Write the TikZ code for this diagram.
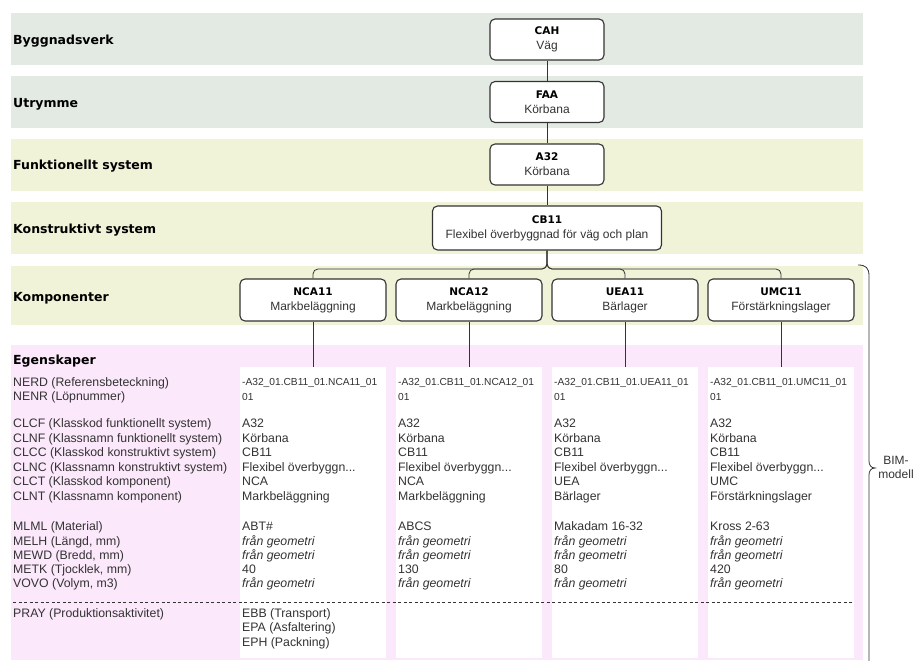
\documentclass[tikz,border=0pt]{standalone}
\usepackage{fontspec}
\setmainfont{Liberation Sans}
\newfontfamily\dvsans{DejaVu Sans}
\usetikzlibrary{calc,positioning}
\definecolor{bandgray}{RGB}{227,233,227}
\definecolor{bandyellow}{RGB}{240,243,215}
\definecolor{bandpink}{RGB}{252,232,251}
\definecolor{ink}{RGB}{51,51,51}
\newcommand\ttl[1]{{\dvsans\bfseries\fontsize{10.5}{15}\selectfont\color{black}#1}}
\newcommand\hd[1]{{\dvsans\bfseries\fontsize{12.5}{15}\selectfont\color{black}#1}}
\newcommand\flexshort{Flexibel överbyggn...}
\newcommand\fg{\textit{från geometri}}
\tikzset{
  box/.style={draw=ink,line width=1.1pt,rounded corners=5pt,fill=white,align=center,
    inner sep=0pt,text=ink,font=\fontsize{12}{15}\selectfont},
  col/.style={fill=white,minimum width=146,minimum height=291,inner sep=0pt},
  link/.style={draw=ink,line width=0.8pt},
  sep/.style={draw=ink,line width=0.8pt,dash pattern=on 3pt off 2.5pt},
  lbl/.style={anchor=base west,inner sep=0pt,text=ink,font=\fontsize{12.3}{14.6}\selectfont},
  code/.style={lbl,font=\fontsize{10.2}{12}\selectfont}
}

\begin{document}
\begin{tikzpicture}[x=1pt,y=-1pt]
  \useasboundingbox (0,0) rectangle (914,661);
  % bands
  \foreach \T/\B/\C in {13/65/bandgray,76/128/bandgray,139/191/bandyellow,
      202/254/bandyellow,266/325/bandyellow,345/660/bandpink}
    \fill[\C] (11,\T) rectangle (863,\B);
  \foreach \Y/\L in {44.5/Byggnadsverk,107.5/Utrymme,169.5/Funktionellt system,
      233.5/Konstruktivt system,301.5/Komponenter,364.5/Egenskaper}
    \node[lbl] at (13,\Y) {\hd{\L}};
  % tree
  \node[box,minimum width=114,minimum height=41] (cah) at (547,39.5) {\ttl{CAH}\\Väg};
  \node[box,minimum width=114,minimum height=41] (faa) at (547,102) {\ttl{FAA}\\Körbana};
  \node[box,minimum width=114,minimum height=41] (a32) at (547,164.5) {\ttl{A32}\\Körbana};
  \node[box,minimum width=229,minimum height=44] (cb11) at (547,228)
    {\ttl{CB11}\\Flexibel överbyggnad för väg och plan};
  \draw[link] (cah) -- (faa) (faa) -- (a32) (a32) -- (cb11);
  \coordinate (hub) at (547,269);
  % properties, left
  \foreach \Y/\L in {386/NERD (Referensbeteckning),400/NENR (Löpnummer),
      427.5/CLCF (Klasskod funktionellt system),442.1/CLNF (Klassnamn funktionellt system),
      456.7/CLCC (Klasskod konstruktivt system),471.3/CLNC (Klassnamn konstruktivt system),
      485.9/CLCT (Klasskod komponent),500.5/CLNT (Klassnamn komponent),
      530.5/MLML (Material),545/{MELH (Längd, mm)},559.5/{MEWD (Bredd, mm)},
      573.5/{METK (Tjocklek, mm)},587.5/{VOVO (Volym, m3)},617.5/PRAY (Produktionsaktivitet)}
    \node[lbl] at (13,\Y) {\L};
  % components and their columns
  \foreach \X/\k/\cc/\cn/\m/\th in {313/NCA11/NCA/Markbeläggning/ABT\#/40,
      469/NCA12/NCA/Markbeläggning/ABCS/130,625/UEA11/UEA/Bärlager/Makadam 16-32/80,
      781/UMC11/UMC/Förstärkningslager/Kross 2-63/420}{
    \node[box,minimum width=146,minimum height=42] (\k) at (\X,300) {\ttl{\k}\\\cn};
    \draw[link,rounded corners=5pt] (\k.north) |- (hub) -- (cb11.south);
    \node[col] (col\k) at (\X,512.5) {};
    \draw[link] (\k.south) -- (col\k.north);
    \node[code] at (\X-71,385.5) {-A32\_01.CB11\_01.\k\_01};
    \node[code] at (\X-71,400) {01};
    \foreach \Y/\V in {427.5/A32,442.1/Körbana,456.7/CB11,471.3/\flexshort,485.9/\cc,
        500.5/\cn,530.5/\m,545/\fg,559.5/\fg,573.5/\th,587.5/\fg}
      \node[lbl] at (\X-71,\Y) {\V};
  }
  \foreach \Y/\V in {617.5/EBB (Transport),631.5/EPA (Asfaltering),646/EPH (Packning)}
    \node[lbl] at (242,\Y) {\V};
  \draw[sep] (13,602) -- (853,602);
  % BIM-modell brace
  \draw[link] (858,265) .. controls (866,265) and (869,268) .. (869,276) -- (869,461)
    .. controls (869,465) and (871,468) .. (875,468)
    .. controls (871,468) and (869,471) .. (869,475) -- (869,660)
    .. controls (869,668) and (866,671) .. (858,671);
  \node[align=center,text=ink,font=\fontsize{12}{14}\selectfont,inner sep=0pt] (bim)
    at (896,467) {BIM-\\modell};
\end{tikzpicture}
\end{document}
